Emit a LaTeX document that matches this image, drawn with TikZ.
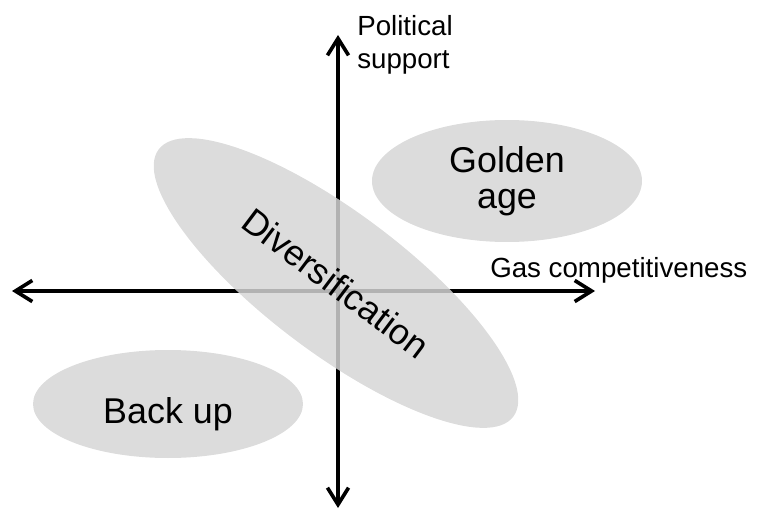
\documentclass[tikz,border=0pt]{standalone}
\usepackage{fontspec}
\setmainfont{Liberation Sans}
\usepackage{tikz}
\usetikzlibrary{shapes.geometric, arrows.meta, positioning, calc}
\definecolor{blobgray}{RGB}{213,213,213}
\tikzset{
    axis/.style={line width=2.6pt, {Straight Barb[length=12pt, width=15pt, line width=2.6pt]}-{Straight Barb[length=12pt, width=15pt, line width=2.6pt]}},
    blob/.style={ellipse, fill=blobgray, fill opacity=0.84, text opacity=1, inner sep=0pt, font=\fontsize{25.5}{25.5}\selectfont, align=center},
    axislabel/.style={inner sep=0pt, font=\fontsize{19.7}{23.4}\selectfont, align=left}
}

\begin{document}
\begin{tikzpicture}
        \useasboundingbox (0,0) rectangle (18.925,12.775);
        % Axes
        \coordinate (top) at (8.45, 11.9);
        \coordinate (bottom) at (8.45, 0.075);
        \coordinate (left) at (0.3, 5.5);
        \coordinate (right) at (14.875, 5.5);
        \draw[axis] (bottom) -- (top);
        \draw[axis] (left) -- (right);
        
        % Axis labels
        \node (political) [axislabel, anchor=north west] at (8.925, 12.4) {Political\\support};
        \node (gas) [axislabel, anchor=base west] at (12.25, 5.85) {Gas competitiveness};
        
        % Scenarios
        \node (golden) [blob, minimum width=6.75cm, minimum height=3.05cm] at (12.675, 8.25) {Golden\\age};
        \node (backup) [blob, minimum width=6.75cm, minimum height=2.7cm] at (4.2, 2.675) {};
        \node (backuptext) [blob, fill=none, yshift=-0.25cm] at (backup.center) {Back up};
        \node (divers) [blob, minimum width=11.1cm, minimum height=3.5cm, rotate=-37] at (8.4, 5.7) {Diversification};
    \end{tikzpicture}
\end{document}
